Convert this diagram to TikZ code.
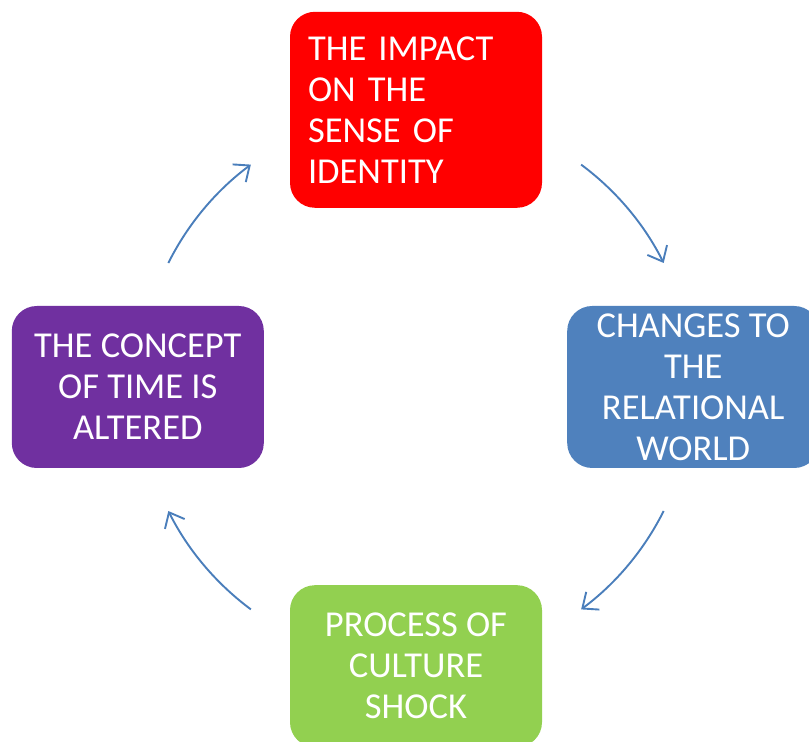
\documentclass[tikz,border=0pt]{standalone}
\usepackage{fontspec}
\setmainfont{Carlito}
\usetikzlibrary{positioning,arrows.meta}
\definecolor{idred}{HTML}{FF0000}
\definecolor{relblue}{HTML}{4F81BD}
\definecolor{shockgreen}{HTML}{92D050}
\definecolor{timepurple}{HTML}{7030A0}
\definecolor{arcblue}{HTML}{4A7EBB}
\tikzset{
stage/.style = {rectangle, rounded corners=25pt, text=white, inner sep=0pt,
	minimum width=252pt, minimum height=162pt, align=center,
	font={\fontsize{36.5}{41}\selectfont\spaceskip=\fontdimen2\font\relax}},
cyclearc/.style = {draw=arcblue, line width=1.9pt, -{Straight Barb[length=13pt, width=22pt, line width=1.9pt]}},
}

\begin{document}
\begin{tikzpicture}[x=1pt, y=1pt]
	\useasboundingbox (0,0) rectangle (809,742);
	\clip (0,0) rectangle (809,742);

	\coordinate (hub) at (416,355);
	\node[stage, fill=idred, minimum height=196pt, text width=216pt, inner xsep=18pt, align=left, above=179pt of hub] (identity) {THE IMPACT\\ON THE\\SENSE OF\\IDENTITY};
	\node[stage, fill=relblue, right=151pt of hub] (relational) {CHANGES TO\\THE\\RELATIONAL\\WORLD};
	\node[stage, fill=shockgreen, below=198pt of hub] (shock) {PROCESS OF\\CULTURE\\SHOCK};
	\node[stage, fill=timepurple, left=152pt of hub] (time) {THE CONCEPT\\OF TIME IS\\ALTERED};

	\draw[cyclearc] ([shift={(53.4:277)}]hub) arc[start angle=53.4, end angle=26.6, radius=277];
	\draw[cyclearc] ([shift={(-26.6:277)}]hub) arc[start angle=-26.6, end angle=-53.4, radius=277];
	\draw[cyclearc] ([shift={(-126.6:277)}]hub) arc[start angle=-126.6, end angle=-153.4, radius=277];
	\draw[cyclearc] ([shift={(153.4:277)}]hub) arc[start angle=153.4, end angle=126.6, radius=277];

\end{tikzpicture}
\end{document}
